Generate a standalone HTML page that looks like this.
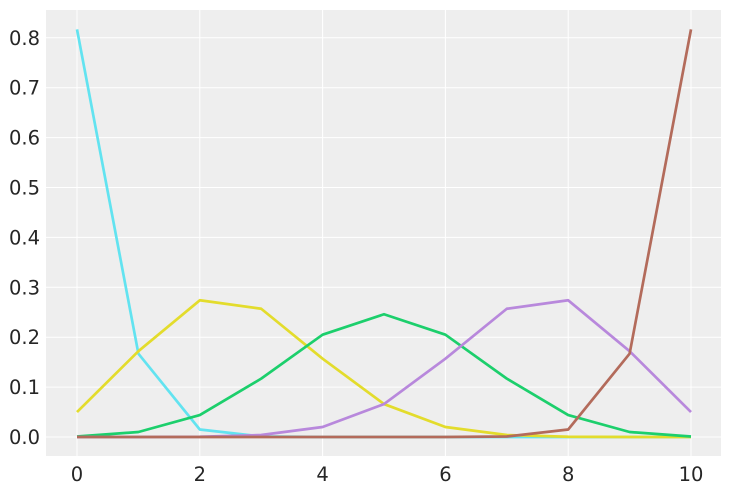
<!DOCTYPE html>
<html><head><meta charset="utf-8"><style>
body{margin:0;background:#fff}
svg text{font-family:"DejaVu Sans","Liberation Sans",sans-serif;font-size:19.5px;fill:#262626}
</style></head><body>
<svg id="c" width="731" height="491"></svg>
<script>
const xTicks=[0,2,4,6,8,10];
const yTicks=[0.0,0.1,0.2,0.3,0.4,0.5,0.6,0.7,0.8];
const xs=[0,1,2,3,4,5,6,7,8,9,10];
const cyan=[0.817,0.167,0.015,0.001,0,0,0,0,0,0,0];
const yellow=[0.050,0.172,0.274,0.257,0.157,0.066,0.020,0.004,0.0005,0,0];
const green=[0.001,0.010,0.044,0.117,0.205,0.246,0.205,0.117,0.044,0.010,0.001];
const purple=[0,0,0.0005,0.004,0.020,0.066,0.157,0.257,0.274,0.172,0.050];
const brown=[0,0,0,0,0,0,0,0.001,0.015,0.167,0.817];
const svg=document.getElementById('c');const NS='http://www.w3.org/2000/svg';
const X=v=>77+v*61.4, Y=v=>437-v*499;
function el(t,a,p){const e=document.createElementNS(NS,t);for(const k in a)e.setAttribute(k,a[k]);(p||svg).appendChild(e);return e;}
const bg=el('rect',{x:46,y:10,width:675,height:446,fill:'#eeeeee'});


yTicks.forEach(t=>{const l=el('line',{x1:46,x2:721,y1:Y(t),y2:Y(t),stroke:'#fff','stroke-width':1});


const tx=el('text',{x:40,y:Y(t)+7,'text-anchor':'end'});tx.textContent=t.toFixed(1);

});
xTicks.forEach(t=>{const l=el('line',{x1:X(t),x2:X(t),y1:10,y2:456,stroke:'#fff','stroke-width':1});


const tx=el('text',{x:X(t),y:481,'text-anchor':'middle'});tx.textContent=t;

});
const series=[[cyan,'#62e3f0','line-p002'],[yellow,'#e3dc2c','line-p025'],[green,'#1ccf6c','line-p05'],[purple,'#b888dc','line-p075'],[brown,'#b36b5b','line-p098']];
series.forEach(([d,c,n])=>{const p=el('polyline',{points:xs.map((x,i)=>X(x)+','+Y(d[i])).join(' '),fill:'none',stroke:c,'stroke-width':2.7,'stroke-linejoin':'round'});

});
</script>
</body></html>
